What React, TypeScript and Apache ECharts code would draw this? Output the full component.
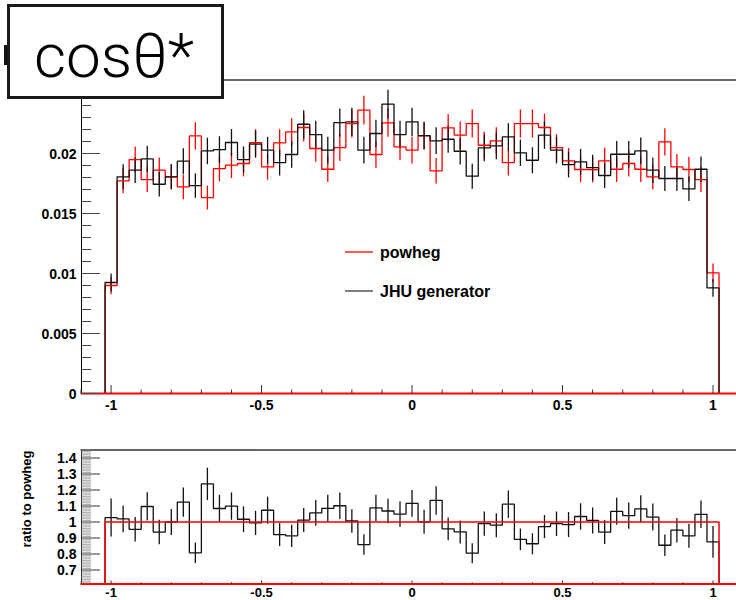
import React, { useEffect, useRef } from "react";
import * as echarts from "echarts";

// ---------- data ----------
const BIN_LOW = -1.02;
const BIN_WIDTH = 0.04;

// powheg (red) bin contents, 51 bins from -1.02 to 1.02
const POWHEG = [
  0.00900, 0.01772, 0.01950, 0.01783, 0.01861, 0.01806, 0.01722, 0.02147, 0.01633, 0.01875,
  0.01903, 0.01917, 0.02090, 0.01889, 0.02089, 0.02180, 0.02217, 0.02042, 0.01869, 0.02050,
  0.02250, 0.02361, 0.01992, 0.02256, 0.02056, 0.02028, 0.02147, 0.01856, 0.02214, 0.02153,
  0.02250, 0.02069, 0.02106, 0.01925, 0.02250, 0.02250, 0.02217, 0.02050, 0.01939, 0.01867,
  0.01865, 0.01939, 0.01869, 0.01917, 0.01869, 0.01805, 0.02097, 0.01889, 0.01867, 0.01783,
  0.01005,
];

// JHU generator (black) bin contents
const JHU = [
  0.00925, 0.01806, 0.01861, 0.01956, 0.01744, 0.01806, 0.01936, 0.01733, 0.02022, 0.02033,
  0.02092, 0.01950, 0.02078, 0.02028, 0.01925, 0.01992, 0.02244, 0.02158, 0.02028, 0.02258,
  0.02264, 0.02028, 0.02167, 0.02411, 0.02158, 0.02264, 0.02150, 0.02106, 0.02119, 0.02019,
  0.01811, 0.02047, 0.02064, 0.02139, 0.02006, 0.01944, 0.02153, 0.02028, 0.01908, 0.01931,
  0.01883, 0.01817, 0.01994, 0.01994, 0.02022, 0.01861, 0.01792, 0.01792, 0.01706, 0.01869,
  0.00880,
];

// Poisson-like variance per unit of normalised content (err^2 = K * value)
const ERR_VARIANCE_SCALE = 6.06e-5;

const X_LABEL_VALUES = [-1, -0.5, 0, 0.5, 1];
const X_LABELS = ["-1", "-0.5", "0", "0.5", "1"];
const Y_MAIN_LABEL_VALUES = [0, 0.005, 0.01, 0.015, 0.02];
const Y_MAIN_LABELS = ["0", "0.005", "0.01", "0.015", "0.02"];
const Y_RATIO_LABEL_VALUES = [0.7, 0.8, 0.9, 1, 1.1, 1.2, 1.3, 1.4];
const Y_RATIO_LABELS = ["0.7", "0.8", "0.9", "1", "1.1", "1.2", "1.3", "1.4"];
const LEGEND_LABELS = ["powheg", "JHU generator"];
const TITLE = "cosθ*";
const RATIO_TITLE = "ratio to powheg";

// ---------- axes ranges ----------
const X_MIN = -1.1;
const X_MAX = 1.0764;
const Y_MAX = 0.02617;
const R_MIN = 0.6125;
const R_MAX = 1.45;

const RED = "#ff0000";
const BLACK = "#000000";
const LABEL_FONT = 'bold 14px "Liberation Sans", Arial, sans-serif';
const LABEL_FONT_SMALL = 'bold 13px "Liberation Sans", Arial, sans-serif';

const BIN_HIGH = BIN_LOW + BIN_WIDTH * POWHEG.length;
const centers = POWHEG.map((_, i) => BIN_LOW + BIN_WIDTH * (i + 0.5));
const err = (v: number) => Math.sqrt(v * ERR_VARIANCE_SCALE);
const ratio = JHU.map((j, i) => j / POWHEG[i]);
const ratioErr = JHU.map(
  (j, i) => ratio[i] * Math.sqrt(ERR_VARIANCE_SCALE / j + ERR_VARIANCE_SCALE / POWHEG[i])
);
const selfRatio = POWHEG.map((p) => p / p);

function stepPoints(vals: number[], base: number) {
  const pts: number[][] = [[BIN_LOW, base]];
  vals.forEach((v, i) => {
    const x0 = BIN_LOW + i * BIN_WIDTH;
    pts.push([x0, v], [x0 + BIN_WIDTH, v]);
  });
  pts.push([BIN_HIGH, base]);
  return pts;
}

function histSeries(name: string, vals: number[], base: number, color: string, grid: number, width = 1.3) {
  return {
    name,
    type: "line",
    xAxisIndex: grid * 2,
    yAxisIndex: grid,
    data: stepPoints(vals, base),
    showSymbol: false,
    symbol: "none",
    clip: false,
    lineStyle: { color, width },
    silent: true,
    z: 3,
  };
}

function errorSeries(vals: number[], errs: number[], color: string, grid: number) {
  return {
    type: "custom",
    xAxisIndex: grid * 2,
    yAxisIndex: grid,
    clip: false,
    silent: true,
    z: 3,
    data: vals.map((v, i) => [centers[i], v, errs[i]]),
    renderItem: (_p: any, api: any) => {
      const c = api.value(0);
      const v = api.value(1);
      const e = api.value(2);
      const a = api.coord([c, v - e]);
      const b = api.coord([c, v + e]);
      return {
        type: "line",
        shape: { x1: a[0], y1: a[1], x2: b[0], y2: b[1] },
        style: { stroke: color, lineWidth: 1.3 },
      };
    },
  };
}

function lineSeries(pts: number[][], color: string, grid: number, width: number) {
  return {
    type: "line",
    xAxisIndex: grid * 2,
    yAxisIndex: grid,
    data: pts,
    showSymbol: false,
    symbol: "none",
    clip: false,
    silent: true,
    lineStyle: { color, width },
    z: 4,
  };
}

type Deco = {
  kind: string; v: number; len?: number; text?: string; off?: number; font?: string;
  color?: string; width?: number;
};

function decoSeries(grid: number, yMin: number, items: Deco[]) {
  return {
    type: "custom",
    xAxisIndex: grid * 2,
    yAxisIndex: grid,
    clip: false,
    silent: true,
    z: 5,
    data: items.map(() => [0, yMin]),
    renderItem: (params: any, api: any) => {
      const it = items[params.dataIndex];
      if (it.kind === "xt") {
        const p = api.coord([it.v, yMin]);
        return {
          type: "line",
          shape: { x1: p[0], y1: p[1], x2: p[0], y2: p[1] - (it.len || 4) },
          style: { stroke: "#333", lineWidth: 1 },
        };
      }
      if (it.kind === "yt") {
        const p = api.coord([X_MIN, it.v]);
        return {
          type: "line",
          shape: { x1: p[0], y1: p[1], x2: p[0] + (it.len || 10), y2: p[1] },
          style: { stroke: it.color || "#444", lineWidth: it.width || 1 },
        };
      }
      if (it.kind === "xl") {
        const p = api.coord([it.v, yMin]);
        return {
          type: "text",
          x: p[0],
          y: p[1] + (it.off || 10),
          style: { text: it.text, font: it.font, fill: "#000", align: "center", verticalAlign: "middle" },
        };
      }
      const p = api.coord([X_MIN, it.v]);
      return {
        type: "text",
        x: p[0] - (it.off || 5),
        y: p[1],
        style: { text: it.text, font: it.font, fill: "#000", align: "right", verticalAlign: "middle" },
      };
    },
  };
}

function mainDecoItems() {
  const items: Deco[] = [];
  for (let k = 0; k <= 26; k++) {
    items.push({ kind: "yt", v: k / 1000, len: k % 5 === 0 ? 19 : 10 });
  }
  for (let k = -11; k <= 10; k++) {
    items.push({ kind: "xt", v: k / 10, len: k % 5 === 0 ? 8.5 : 4 });
  }
  X_LABEL_VALUES.forEach((v, i) => items.push({ kind: "xl", v, text: X_LABELS[i], off: 11, font: LABEL_FONT }));
  Y_MAIN_LABEL_VALUES.forEach((v, i) =>
    items.push({ kind: "yl", v, text: Y_MAIN_LABELS[i], off: 4.5, font: LABEL_FONT })
  );
  return items;
}

function ratioDecoItems() {
  const items: Deco[] = [];
  for (let k = 62; k <= 145; k++) {
    const major = k % 10 === 0;
    items.push({
      kind: "yt", v: k / 100, len: major ? 19 : 10,
      color: major ? "#333" : "#888", width: major ? 1 : 0.7,
    });
  }
  for (let k = -11; k <= 10; k++) {
    items.push({ kind: "xt", v: k / 10, len: k % 5 === 0 ? 3.5 : 1.8 });
  }
  X_LABEL_VALUES.forEach((v, i) => items.push({ kind: "xl", v, text: X_LABELS[i], off: 8, font: LABEL_FONT_SMALL }));
  Y_RATIO_LABEL_VALUES.forEach((v, i) =>
    items.push({ kind: "yl", v, text: Y_RATIO_LABELS[i], off: 4.5, font: LABEL_FONT })
  );
  return items;
}

const hiddenAxisParts = {
  axisTick: { show: false },
  axisLabel: { show: false },
  splitLine: { show: false },
};

const option: any = {
  animation: false,
  backgroundColor: "#ffffff",
  grid: [
    { left: 81, right: 0, top: 79.5, height: 314 },
    { left: 81, right: 0, top: 450, height: 134 },
  ],
  xAxis: [
    {
      gridIndex: 0, type: "value", min: X_MIN, max: X_MAX, position: "bottom",
      axisLine: { show: true, onZero: false, lineStyle: { color: BLACK, width: 1 } },
      ...hiddenAxisParts,
    },
    {
      gridIndex: 0, type: "value", min: X_MIN, max: X_MAX, position: "top",
      axisLine: { show: true, onZero: false, lineStyle: { color: "#666", width: 2 } },
      ...hiddenAxisParts,
    },
    {
      gridIndex: 1, type: "value", min: X_MIN, max: X_MAX, position: "bottom",
      axisLine: { show: true, onZero: false, lineStyle: { color: BLACK, width: 1 } },
      ...hiddenAxisParts,
    },
    {
      gridIndex: 1, type: "value", min: X_MIN, max: X_MAX, position: "top",
      axisLine: { show: true, onZero: false, lineStyle: { color: "#333", width: 1.5 } },
      ...hiddenAxisParts,
    },
  ],
  yAxis: [
    {
      gridIndex: 0, type: "value", min: 0, max: Y_MAX,
      axisLine: { show: true, onZero: false, lineStyle: { color: BLACK, width: 1 } },
      ...hiddenAxisParts,
    },
    {
      gridIndex: 1, type: "value", min: R_MIN, max: R_MAX,
      axisLine: { show: true, onZero: false, lineStyle: { color: BLACK, width: 1 } },
      ...hiddenAxisParts,
    },
  ],
  series: [
    // main panel
    histSeries("powheg", POWHEG, 0, RED, 0),
    errorSeries(POWHEG, POWHEG.map(err), RED, 0),
    histSeries("JHU generator", JHU, 0, "#111", 0),
    errorSeries(JHU, JHU.map(err), "#111", 0),
    lineSeries([[X_MIN, 0], [X_MAX, 0]], RED, 0, 2),
    decoSeries(0, 0, mainDecoItems()),
    // ratio panel
    histSeries("ratio", ratio, R_MIN, "#111", 1),
    errorSeries(ratio, ratioErr, "#111", 1),
    histSeries("self", selfRatio, R_MIN, RED, 1, 1.5),
    lineSeries([[X_MIN, R_MIN], [X_MAX, R_MIN]], RED, 1, 2),
    decoSeries(1, R_MIN, ratioDecoItems()),
  ],
  graphic: [
    // title box
    { type: "rect", z: 100, shape: { x: 4, y: 45, width: 5, height: 20 }, style: { fill: "#111" } },
    {
      type: "rect", z: 100,
      shape: { x: 8.5, y: 5.5, width: 214, height: 92 },
      style: { fill: "#ffffff", stroke: "#1a1a1a", lineWidth: 3 },
    },
    {
      type: "text", z: 101, x: 34, y: 55,
      style: {
        text: TITLE, fill: "#000",
        font: '300 62px Roboto, "Liberation Sans", sans-serif',
        align: "left", verticalAlign: "middle",
      },
    },
    // legend
    { type: "line", z: 100, shape: { x1: 345, y1: 252, x2: 373, y2: 252 }, style: { stroke: RED, lineWidth: 1.3 } },
    {
      type: "text", z: 100, x: 380, y: 252,
      style: { text: LEGEND_LABELS[0], fill: "#000", font: 'bold 16px "Liberation Sans", Arial, sans-serif', verticalAlign: "middle" },
    },
    { type: "line", z: 100, shape: { x1: 345, y1: 291, x2: 373, y2: 291 }, style: { stroke: "#555", lineWidth: 1.5 } },
    {
      type: "text", z: 100, x: 380, y: 291,
      style: { text: LEGEND_LABELS[1], fill: "#000", font: 'bold 16px "Liberation Sans", Arial, sans-serif', verticalAlign: "middle" },
    },
    // ratio y title
    {
      type: "text", z: 100, x: 26, y: 499, rotation: Math.PI / 2,
      style: { text: RATIO_TITLE, fill: "#000", font: LABEL_FONT_SMALL, align: "center", verticalAlign: "middle" },
    },
  ],
};

export default function App() {
  const ref = useRef<HTMLDivElement>(null);
  useEffect(() => {
    const chart = echarts.init(ref.current!, null, { renderer: "svg" });
    chart.setOption(option);
    return () => chart.dispose();
  }, []);
  return (
    <div
      ref={ref}
      style={{ position: "fixed", left: 0, top: 0, width: 736, height: 600, background: "#fff" }}
    />
  );
}
